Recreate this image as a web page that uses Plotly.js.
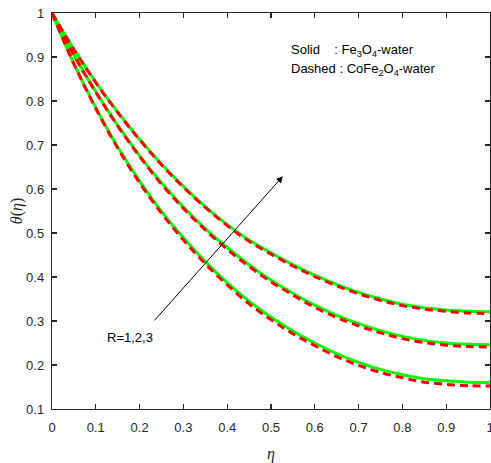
<!DOCTYPE html>
<html>
<head>
<meta charset="utf-8">
<script src="https://cdn.plot.ly/plotly-3.0.1.min.js"></script>
<style>html,body{margin:0;padding:0;background:#fff;}#chart{width:491px;height:463px;}</style>
</head>
<body>
<div id="chart"></div>
<script>
const eta = [0,0.05,0.1,0.15,0.2,0.25,0.3,0.35,0.4,0.45,0.5,0.55,0.6,0.65,0.7,0.75,0.8,0.85,0.9,0.95,1];
// Solid: Fe3O4-water
const fe_R1 = [1,0.885,0.785,0.696,0.618,0.549,0.489,0.435,0.387,0.345,0.309,0.277,0.250,0.226,0.206,0.190,0.178,0.169,0.164,0.161,0.160];
const fe_R2 = [1,0.905,0.821,0.745,0.676,0.614,0.559,0.510,0.467,0.428,0.393,0.363,0.336,0.313,0.294,0.278,0.265,0.256,0.250,0.247,0.246];
const fe_R3 = [1,0.918,0.843,0.775,0.713,0.657,0.606,0.560,0.519,0.484,0.455,0.428,0.404,0.383,0.365,0.350,0.338,0.330,0.325,0.322,0.321];
// Dashed: CoFe2O4-water
const co_R1 = [1,0.884,0.783,0.693,0.614,0.545,0.484,0.430,0.382,0.339,0.303,0.271,0.244,0.219,0.199,0.183,0.171,0.161,0.156,0.153,0.152];
const co_R2 = [1,0.904,0.820,0.743,0.674,0.611,0.556,0.507,0.463,0.424,0.389,0.359,0.331,0.308,0.289,0.273,0.260,0.251,0.245,0.242,0.241];
const co_R3 = [1,0.917,0.842,0.774,0.712,0.655,0.604,0.558,0.517,0.481,0.452,0.425,0.401,0.380,0.362,0.347,0.335,0.327,0.322,0.318,0.317];
const xTicks = [0,0.1,0.2,0.3,0.4,0.5,0.6,0.7,0.8,0.9,1];
const yTicks = [0.1,0.2,0.3,0.4,0.5,0.6,0.7,0.8,0.9,1];

const solid = [fe_R1, fe_R2, fe_R3].map(y => ({x: eta, y: y, mode: 'lines', line: {color: '#00ff00', width: 3, shape: 'spline'}, hoverinfo: 'skip'}));
const dashed = [co_R1, co_R2, co_R3].map(y => ({x: eta, y: y, mode: 'lines', line: {color: '#ff0000', width: 3, dash: '8px,5px', shape: 'spline'}, hoverinfo: 'skip'}));

const tickFont = {family: 'Liberation Sans, Arial, sans-serif', size: 13, color: '#262626'};
const axisCommon = {
  showline: true, mirror: 'ticks', linecolor: '#262626', linewidth: 1.2,
  ticks: 'inside', ticklen: 5, tickwidth: 1.2, tickcolor: '#262626',
  showgrid: false, zeroline: false, ticklabeloverflow: 'allow',
  tickfont: tickFont
};
const serif = 'Liberation Serif, Times New Roman, serif';
const sans = 'Liberation Sans, Arial, sans-serif';

const layout = {
  width: 491, height: 463,
  margin: {l: 52, r: 1, t: 13, b: 54},
  paper_bgcolor: '#fff', plot_bgcolor: '#fff',
  showlegend: false,
  xaxis: Object.assign({}, axisCommon, {
    range: [0, 1], tickvals: xTicks, ticktext: xTicks.map(String), ticklabelstandoff: 6,
    title: {text: '<i>η</i>', font: {family: serif, size: 16, color: '#262626'}, standoff: 14}
  }),
  yaxis: Object.assign({}, axisCommon, {
    range: [0.1, 1], tickvals: yTicks, ticktext: yTicks.map(String), ticklabelstandoff: 4
  }),
  annotations: [
    {xref: 'paper', yref: 'paper', x: -0.078, y: 0.499, xanchor: 'center', yanchor: 'middle', textangle: -90, showarrow: false,
     text: '<i>θ</i>(<i>η</i>)', font: {family: serif, size: 16, color: '#262626'}},
    {xref: 'paper', yref: 'paper', x: 0.541, y: 0.905, xanchor: 'left', yanchor: 'middle', showarrow: false,
     text: 'Solid    : Fe<sub>3</sub>O<sub>4</sub>-water', font: {family: sans, size: 13, color: '#000'}},
    {xref: 'paper', yref: 'paper', x: 0.541, y: 0.858, xanchor: 'left', yanchor: 'middle', showarrow: false,
     text: 'Dashed : CoFe<sub>2</sub>O<sub>4</sub>-water', font: {family: sans, size: 13, color: '#000'}},
    {x: 0.527, y: 0.629, ax: 0.231, ay: 0.298, xref: 'x', yref: 'y', axref: 'x', ayref: 'y',
     showarrow: true, arrowhead: 2, arrowsize: 1.3, arrowwidth: 1, arrowcolor: '#000', text: ''},
    {x: 0.178, y: 0.262, xref: 'x', yref: 'y', showarrow: false, text: 'R=1,2,3',
     font: {family: sans, size: 13, color: '#000'}}
  ]
};

Plotly.newPlot('chart', solid.concat(dashed), layout, {displayModeBar: false, staticPlot: true});
</script>
</body>
</html>
